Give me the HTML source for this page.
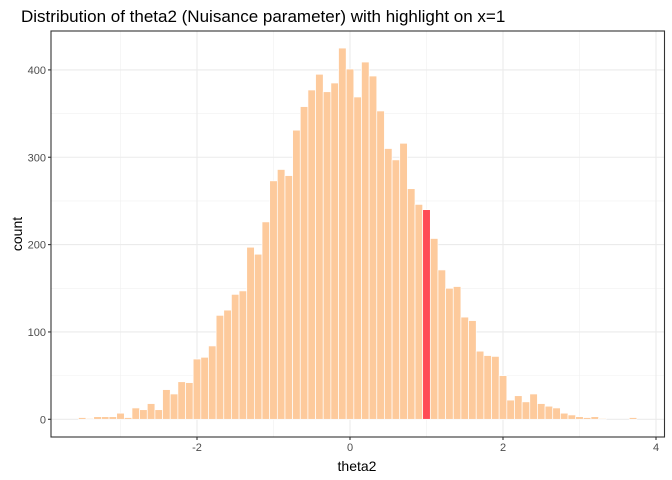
<!DOCTYPE html>
<html><head><meta charset="utf-8"><style>
body{margin:0;background:#fff;}
svg{display:block;font-family:"Liberation Sans",sans-serif;}
</style></head><body>
<svg id="chart" width="672" height="480" viewBox="0 0 672 480">
<text x="21" y="22" font-size="17" fill="#000">Distribution of theta2 (Nuisance parameter) with highlight on x=1</text>
<rect x="51" y="31" width="613.5" height="406" fill="#fff"/>
<g id="grid"></g>
<g id="bars"></g>
<rect x="51" y="31" width="613.5" height="406" fill="none" stroke="#333" stroke-width="1.1"/>
<g id="axes"></g>
<text x="357" y="471" font-size="14" text-anchor="middle" fill="#000">theta2</text>
<text transform="translate(22,234) rotate(-90)" font-size="14" text-anchor="middle" fill="#000">count</text>
</svg>
<script>
const binCenters=[-3.5,-3.4,-3.3,-3.2,-3.1,-3.0,-2.9,-2.8,-2.7,-2.6,-2.5,-2.4,-2.3,-2.2,-2.1,-2.0,-1.9,-1.8,-1.7,-1.6,-1.5,-1.4,-1.3,-1.2,-1.1,-1.0,-0.9,-0.8,-0.7,-0.6,-0.5,-0.4,-0.3,-0.2,-0.1,0.0,0.1,0.2,0.3,0.4,0.5,0.6,0.7,0.8,0.9,1.0,1.1,1.2,1.3,1.4,1.5,1.6,1.7,1.8,1.9,2.0,2.1,2.2,2.3,2.4,2.5,2.6,2.7,2.8,2.9,3.0,3.1,3.2,3.3,3.4,3.5,3.6,3.7];
const counts=[2,1,3,3,3,7,2,13,11,18,11,34,29,43,42,69,71,84,119,125,143,147,197,189,226,273,286,279,331,358,377,395,375,385,425,401,369,409,393,353,310,297,316,264,246,240,207,171,150,152,117,113,78,73,72,50,22,27,20,29,18,15,13,7,5,3,2,3,1,0,0,0,2];
const highlightX=1.0;
const xTicks=[-2,0,2,4];
const xMinor=[-3,-1,1,3];
const yTicks=[0,100,200,300,400];
const yMinor=[50,150,250,350];
const binWidth=0.1;
const NS="http://www.w3.org/2000/svg";
const X=v=>350+76.5*v;
const Y=c=>419.3-0.8735*c;
const L=51,R=664.5,T=31,B=437;
function mk(tag,attrs,parent){const e=document.createElementNS(NS,tag);for(const k in attrs)e.setAttribute(k,attrs[k]);parent.appendChild(e);return e;}
const grid=document.getElementById('grid');
xMinor.forEach(v=>{const l=mk('line',{x1:X(v),x2:X(v),y1:T,y2:B,stroke:'#f0f0f0','stroke-width':0.6},grid);

});
yMinor.forEach(v=>{const l=mk('line',{x1:L,x2:R,y1:Y(v),y2:Y(v),stroke:'#f0f0f0','stroke-width':0.6},grid);

});
xTicks.forEach(v=>{const l=mk('line',{x1:X(v),x2:X(v),y1:T,y2:B,stroke:'#ebebeb','stroke-width':1.1},grid);

});
yTicks.forEach(v=>{const l=mk('line',{x1:L,x2:R,y1:Y(v),y2:Y(v),stroke:'#ebebeb','stroke-width':1.1},grid);

});
const bars=document.getElementById('bars');
binCenters.forEach((c,i)=>{
  const n=counts[i]; if(n<=0) return;
  const hl=Math.abs(c-highlightX)<1e-9;
  const x0=X(c-binWidth/2),x1=X(c+binWidth/2);
  const r=mk('rect',{x:x0,y:Y(n),width:x1-x0,height:Y(0)-Y(n),fill:hl?'#ff4b55':'#fdca9c',stroke:'#fff','stroke-width':0.7},bars);
  
  
});
const axes=document.getElementById('axes');
xTicks.forEach(v=>{
  mk('line',{x1:X(v),x2:X(v),y1:B,y2:B+3,stroke:'#333','stroke-width':1.1},axes);
  const t=mk('text',{x:X(v),y:B+14,'font-size':11,'text-anchor':'middle',fill:'#4d4d4d'},axes);
  t.textContent=v<0?'-'+Math.abs(v):String(v);
  
  
});
yTicks.forEach(v=>{
  mk('line',{x1:L-3,x2:L,y1:Y(v),y2:Y(v),stroke:'#333','stroke-width':1.1},axes);
  const t=mk('text',{x:L-5,y:Y(v)+4,'font-size':11,'text-anchor':'end',fill:'#4d4d4d'},axes);
  t.textContent=String(v);
  
  
});
</script>
</body></html>
